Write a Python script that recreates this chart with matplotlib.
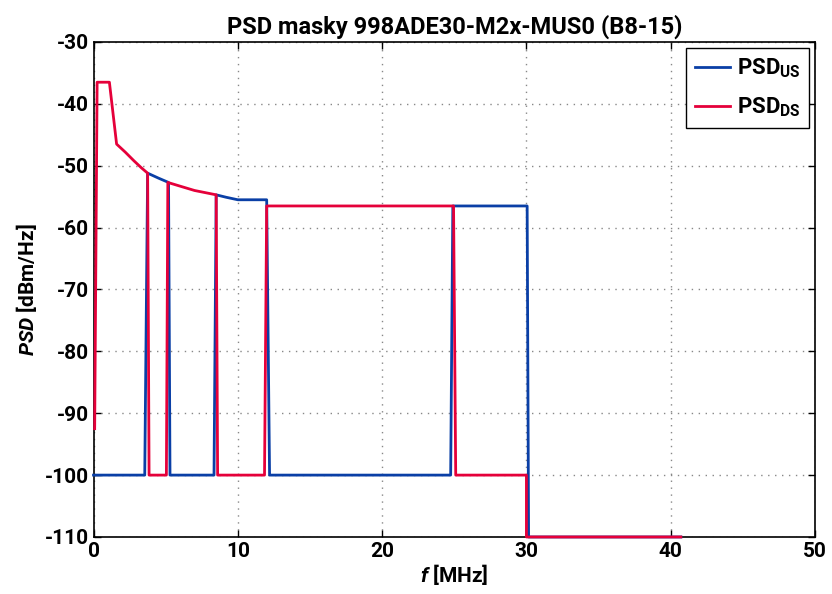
import matplotlib
matplotlib.use('Agg')
import matplotlib.pyplot as plt

# PSD maska - downstream (MHz, dBm/Hz)
f_ds = [0.08, 0.25, 1.1, 1.6, 2.2, 2.8, 3.3, 3.75, 3.85, 5.05, 5.15, 6.0, 7.0, 8.5, 8.6,
        11.85, 12.0, 24.95, 25.1, 30.0, 30.0, 40.7]
psd_ds = [-92.5, -36.5, -36.5, -46.5, -47.8, -49.2, -50.3, -51.2, -100, -100, -52.7, -53.3, -54.0, -54.7, -100,
          -100, -56.5, -56.5, -100, -100, -110, -110]

# PSD maska - upstream
f_us = [0.0, 3.55, 3.75, 4.5, 5.2, 5.3, 8.35, 8.5, 9.2, 10.0, 12.0, 12.2, 24.75, 24.9, 30.05, 30.15, 40.7]
psd_us = [-100, -100, -51.2, -52.0, -52.7, -100, -100, -54.7, -55.1, -55.5, -55.5, -100, -100, -56.5, -56.5, -110, -110]

plt.rcParams['font.family'] = ['Roboto', 'DejaVu Sans']
plt.rcParams['font.weight'] = 'bold'
plt.rcParams['axes.unicode_minus'] = False
plt.rcParams['mathtext.fontset'] = 'custom'
plt.rcParams['mathtext.rm'] = 'Roboto:bold'
plt.rcParams['mathtext.it'] = 'Roboto:italic:bold'

fig = plt.figure(figsize=(8.32, 5.94), dpi=100)
ax = fig.add_axes([0.1124, 0.096, 0.8672, 0.8333])

ax.plot(f_us, psd_us, color='#0a3fa6', linewidth=2.0, label=r'PSD$_{\mathrm{US}}$',
        clip_on=False, zorder=4)
ax.plot(f_ds, psd_ds, color='#e5003a', linewidth=2.0, label=r'PSD$_{\mathrm{DS}}$',
        clip_on=False, zorder=5)

ax.set_xlim(0, 50)
ax.set_ylim(-110, -30)
ax.set_xticks(range(0, 51, 10))
ax.set_yticks(range(-110, -29, 10))
ax.tick_params(direction='in', labelsize=15, width=1, length=5, top=True, right=True)
for s in ax.spines.values():
    s.set_linewidth(1.2)
    s.set_zorder(3)
ax.grid(True, linestyle=(0, (1, 4)), color='#888888', linewidth=1)

ax.set_title('PSD masky 998ADE30-M2x-MUS0 (B8-15)', fontsize=17, fontweight='bold', pad=6)
ax.set_xlabel(r'$f$ [MHz]', fontsize=15, fontweight='bold', labelpad=1)
ax.set_ylabel(r'$PSD$ [dBm/Hz]', fontsize=15, fontweight='bold', labelpad=4)

leg = ax.legend(loc='upper right', fontsize=16, fancybox=False, framealpha=1,
                edgecolor='black', handlelength=1.6, handletextpad=0.3,
                borderaxespad=0.25, labelspacing=0.7, borderpad=0.4)
leg.get_frame().set_linewidth(1)
leg.set_zorder(6)

fig.savefig('out.png', dpi=100)
